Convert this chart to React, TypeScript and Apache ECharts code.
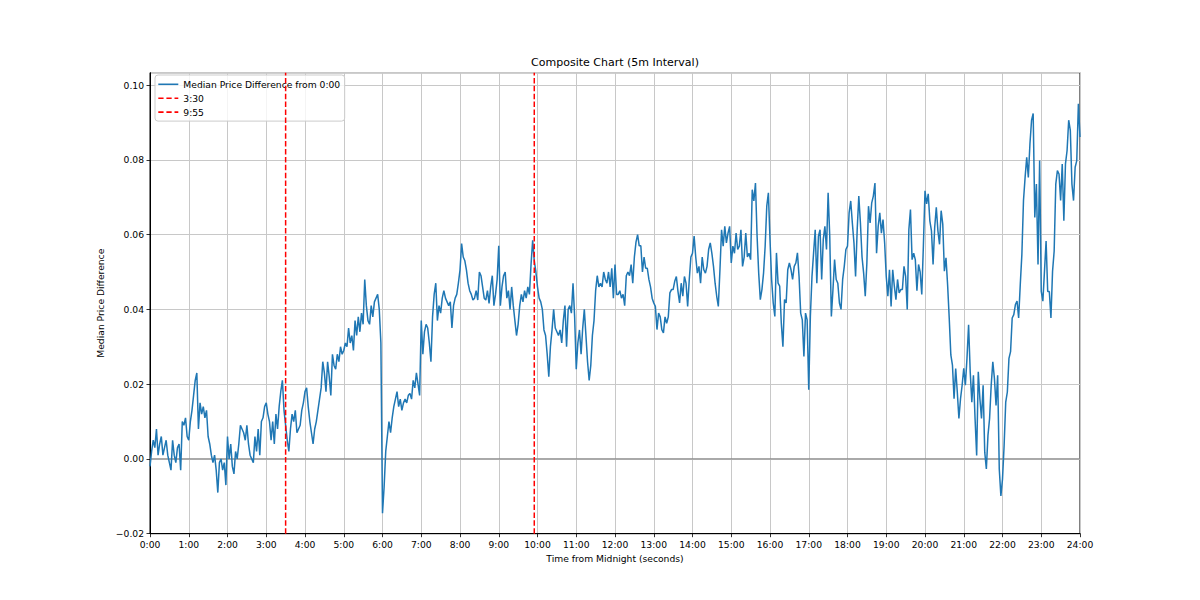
import React, { useEffect, useRef } from "react";
import * as echarts from "echarts";

// sampling step of the series (seconds); each hourly block holds 24 values (2.5-minute steps)
const stepSeconds = 150;
const h00 = [-0.002, 0.002, 0.005, 0.003, 0.008, 0.001, 0.004, 0.006, 0.001, 0.003, 0.005, 0.001, -0.001, -0.003, 0.005, 0.001, -0.001, 0.003, 0.004, -0.003, 0.010, 0.009, 0.011, 0.006];
const h01 = [0.005, 0.010, 0.013, 0.017, 0.021, 0.023, 0.008, 0.015, 0.012, 0.014, 0.011, 0.013, 0.006, 0.004, 0.001, -0.001, 0.001, -0.003, -0.009, -0.001, 0.000, -0.003, -0.001, -0.007];
const h02 = [0.006, 0.000, 0.004, -0.002, -0.004, 0.002, 0.000, 0.004, 0.009, 0.008, 0.007, 0.005, 0.009, 0.004, 0.001, 0.000, -0.001, 0.006, 0.002, 0.008, 0.001, 0.010, 0.011, 0.014];
const h03 = [0.015, 0.012, 0.010, 0.005, 0.010, 0.004, 0.012, 0.008, 0.014, 0.018, 0.021, 0.013, 0.009, 0.005, 0.002, 0.008, 0.012, 0.010, 0.013, 0.007, 0.008, 0.009, 0.013, 0.015];
const h04 = [0.018, 0.019, 0.014, 0.010, 0.007, 0.004, 0.008, 0.010, 0.013, 0.016, 0.019, 0.026, 0.023, 0.018, 0.026, 0.022, 0.017, 0.028, 0.025, 0.024, 0.028, 0.026, 0.030, 0.028];
const h05 = [0.029, 0.031, 0.030, 0.035, 0.031, 0.033, 0.029, 0.037, 0.033, 0.038, 0.034, 0.039, 0.036, 0.048, 0.041, 0.037, 0.036, 0.041, 0.038, 0.042, 0.043, 0.044, 0.040, 0.031];
const h06 = [-0.0145, -0.0075, 0.002, 0.006, 0.010, 0.007, 0.011, 0.014, 0.016, 0.018, 0.014, 0.016, 0.013, 0.015, 0.016, 0.015, 0.017, 0.0175, 0.016, 0.021, 0.019, 0.023, 0.020, 0.017];
const h07 = [0.037, 0.028, 0.034, 0.036, 0.035, 0.031, 0.026, 0.038, 0.044, 0.047, 0.037, 0.041, 0.039, 0.043, 0.045, 0.043, 0.042, 0.041, 0.042, 0.035, 0.041, 0.043, 0.044, 0.047];
const h08 = [0.0505, 0.0576, 0.054, 0.053, 0.0505, 0.047, 0.045, 0.044, 0.0425, 0.043, 0.045, 0.0425, 0.050, 0.049, 0.046, 0.043, 0.0425, 0.045, 0.0416, 0.046, 0.049, 0.041, 0.044, 0.048];
const h09 = [0.057, 0.041, 0.046, 0.049, 0.050, 0.043, 0.045, 0.040, 0.046, 0.041, 0.037, 0.033, 0.036, 0.041, 0.044, 0.042, 0.045, 0.043, 0.046, 0.044, 0.052, 0.0585, 0.053, 0.050];
const h10 = [0.046, 0.043, 0.042, 0.040, 0.0345, 0.033, 0.028, 0.022, 0.030, 0.0345, 0.040, 0.035, 0.034, 0.033, 0.0345, 0.031, 0.037, 0.041, 0.030, 0.040, 0.041, 0.039, 0.047, 0.038];
const h11 = [0.024, 0.031, 0.0345, 0.028, 0.035, 0.040, 0.033, 0.026, 0.021, 0.025, 0.033, 0.037, 0.045, 0.049, 0.046, 0.047, 0.046, 0.050, 0.048, 0.047, 0.050, 0.046, 0.051, 0.043];
const h12 = [0.052, 0.044, 0.044, 0.045, 0.043, 0.044, 0.041, 0.049, 0.050, 0.049, 0.052, 0.047, 0.054, 0.058, 0.060, 0.057, 0.057, 0.050, 0.054, 0.051, 0.051, 0.048, 0.046, 0.043];
const h13 = [0.0417, 0.0408, 0.0346, 0.039, 0.038, 0.0346, 0.0337, 0.038, 0.0363, 0.038, 0.0444, 0.0453, 0.0453, 0.0475, 0.0488, 0.0448, 0.0417, 0.047, 0.0435, 0.0488, 0.047, 0.0408, 0.048, 0.054];
const h14 = [0.055, 0.0596, 0.054, 0.0497, 0.0515, 0.047, 0.054, 0.0506, 0.0497, 0.0515, 0.056, 0.0578, 0.055, 0.0515, 0.047, 0.0435, 0.0408, 0.0506, 0.0613, 0.0569, 0.0622, 0.0578, 0.0604, 0.0622];
const h15 = [0.0524, 0.0569, 0.055, 0.0604, 0.056, 0.0569, 0.0613, 0.0515, 0.054, 0.0604, 0.054, 0.055, 0.0533, 0.072, 0.069, 0.0738, 0.0596, 0.0497, 0.0426, 0.0453, 0.0497, 0.0569, 0.0676, 0.0712];
const h16 = [0.0587, 0.048, 0.0417, 0.0381, 0.0551, 0.047, 0.0462, 0.0363, 0.030, 0.0426, 0.0417, 0.0506, 0.0524, 0.0506, 0.048, 0.0515, 0.0524, 0.0551, 0.0488, 0.039, 0.0372, 0.0274, 0.039, 0.0372];
const h17 = [0.0185, 0.0381, 0.0488, 0.0551, 0.0613, 0.047, 0.0596, 0.0613, 0.048, 0.0587, 0.0622, 0.056, 0.0712, 0.0596, 0.0381, 0.0453, 0.0533, 0.048, 0.047, 0.0417, 0.040, 0.048, 0.0515, 0.056];
const h18 = [0.0569, 0.0658, 0.069, 0.0631, 0.0578, 0.0488, 0.0613, 0.0703, 0.0631, 0.054, 0.0497, 0.0435, 0.0524, 0.0676, 0.0631, 0.0685, 0.0703, 0.0738, 0.055, 0.0622, 0.0658, 0.0604, 0.064, 0.0578];
const h19 = [0.0488, 0.0435, 0.0506, 0.0408, 0.0506, 0.0462, 0.0426, 0.048, 0.0444, 0.0453, 0.0453, 0.0515, 0.0488, 0.040, 0.0613, 0.0667, 0.0533, 0.055, 0.0533, 0.045, 0.052, 0.050, 0.044, 0.057];
const h20 = [0.0717, 0.0682, 0.0709, 0.0637, 0.061, 0.052, 0.0619, 0.0673, 0.061, 0.0574, 0.0664, 0.0628, 0.0502, 0.0538, 0.0466, 0.0377, 0.0278, 0.0251, 0.0161, 0.0242, 0.0179, 0.0108, 0.0161, 0.0197];
const h21 = [0.0242, 0.0197, 0.0269, 0.0359, 0.0233, 0.0152, 0.0224, 0.0108, 0.0009, 0.0233, 0.0161, 0.0108, 0.0197, 0.0018, -0.0027, 0.0063, 0.0108, 0.0197, 0.026, 0.0215, 0.0143, 0.0224, -0.0027, -0.0099];
const h22 = [-0.0054, 0.0036, 0.0152, 0.0179, 0.0269, 0.0287, 0.0377, 0.0386, 0.0413, 0.0422, 0.0377, 0.0466, 0.0547, 0.0691, 0.0753, 0.0807, 0.0753, 0.0843, 0.0906, 0.0924, 0.0646, 0.0735, 0.052, 0.0798];
const h23 = [0.0448, 0.0422, 0.0502, 0.0583, 0.0448, 0.0448, 0.0377, 0.0502, 0.0556, 0.0735, 0.0771, 0.0762, 0.0691, 0.0789, 0.0637, 0.0789, 0.0825, 0.0906, 0.0879, 0.0735, 0.0691, 0.078, 0.0798, 0.095, 0.0861];

const medianDiff = [
  ...h00, ...h01, ...h02, ...h03, ...h04, ...h05, ...h06, ...h07,
  ...h08, ...h09, ...h10, ...h11, ...h12, ...h13, ...h14, ...h15,
  ...h16, ...h17, ...h18, ...h19, ...h20, ...h21, ...h22, ...h23,
];

const xTickLabels = [
  "0:00", "1:00", "2:00", "3:00", "4:00", "5:00", "6:00", "7:00", "8:00",
  "9:00", "10:00", "11:00", "12:00", "13:00", "14:00", "15:00", "16:00",
  "17:00", "18:00", "19:00", "20:00", "21:00", "22:00", "23:00", "24:00",
];
const yTickLabels = ["\u22120.02", "0.00", "0.02", "0.04", "0.06", "0.08", "0.10"];

const mainName = "Median Price Difference from 0:00";
const markerNames = ["3:30", "9:55"];
const markerSeconds = [12600, 35700];

const xMax = 86400;
const yMin = -0.02;
const yMax = 0.1033;
const yStep = 0.02;

const FONT = "DejaVu Sans";
const lineIcon = "path://M0,0H19V1.5H0Z";
const dashIcon = "path://M0,0H5V1.5H0Z M7.7,0H12.7V1.5H7.7Z M15.4,0H19V1.5H15.4Z";

export default function App() {
  const ref = useRef<HTMLDivElement>(null);

  useEffect(() => {
    if (!ref.current) return;
    const chart = echarts.init(ref.current, null, { renderer: "svg" });

    const mainData = medianDiff.map((v, i) => [i * stepSeconds, v]);

    const markerSeries = markerNames.map((name, i) => ({
      name,
      type: "line",
      data: [
        [markerSeconds[i], yMin],
        [markerSeconds[i], yMax],
      ],
      showSymbol: false,
      symbol: "none",
      z: 4,
      itemStyle: { color: "#ff0000" },
      lineStyle: { color: "#ff0000", width: 1.5, type: [5.5, 2.4] },
      silent: true,
    }));

    chart.setOption({
      animation: false,
      backgroundColor: "#ffffff",
      textStyle: { fontFamily: FONT },
      graphic: [
        {
          type: "text",
          x: 615,
          y: 62.7,
          style: {
            text: "Composite Chart (5m Interval)",
            fill: "#000000",
            font: `11px "${FONT}"`,
            align: "center",
            verticalAlign: "middle",
          },
        },
      ],
      legend: {
        orient: "vertical",
        left: 155,
        top: 75,
        padding: [3.8, 4.5, 3.5, 3.3],
        itemGap: 2.9,
        itemWidth: 20,
        itemHeight: 11,
        selectedMode: false,
        backgroundColor: "rgba(255,255,255,0.8)",
        borderColor: "#cccccc",
        borderWidth: 1,
        borderRadius: 3,
        textStyle: { color: "#000000", fontSize: 9.2, fontFamily: FONT, lineHeight: 11 },
        data: [
          { name: mainName, icon: lineIcon },
          { name: markerNames[0], icon: dashIcon },
          { name: markerNames[1], icon: dashIcon },
        ],
      },
      grid: {
        left: 150,
        right: 120,
        top: 72.7,
        bottom: 66.3,
        show: true,
        borderColor: "#000000",
        borderWidth: 1,
        backgroundColor: "transparent",
        containLabel: false,
      },
      xAxis: {
        type: "value",
        min: 0,
        max: xMax,
        interval: 3600,
        name: "Time from Midnight (seconds)",
        nameLocation: "middle",
        nameGap: 19,
        nameTextStyle: { color: "#000000", fontSize: 9.2, fontFamily: FONT },
        axisLine: { show: true, onZero: false, lineStyle: { color: "#000000", width: 1 } },
        axisTick: { show: true, length: 3.5, lineStyle: { color: "#000000", width: 0.8 } },
        axisLabel: {
          color: "#000000",
          fontSize: 9.2,
          fontFamily: FONT,
          margin: 6,
          formatter: (v: number) => xTickLabels[Math.round(v / 3600)] ?? "",
        },
        splitLine: { show: true, lineStyle: { color: "#c8c8c8", width: 1 } },
      },
      yAxis: {
        type: "value",
        min: yMin,
        max: yMax,
        interval: yStep,
        name: "Median Price Difference",
        nameLocation: "middle",
        nameGap: 33.5,
        nameTextStyle: { color: "#000000", fontSize: 9.2, fontFamily: FONT },
        axisLine: { show: true, onZero: false, lineStyle: { color: "#000000", width: 1 } },
        axisTick: { show: true, length: 3.5, lineStyle: { color: "#000000", width: 0.8 } },
        axisLabel: {
          color: "#000000",
          fontSize: 9.2,
          fontFamily: FONT,
          margin: 6,
          showMaxLabel: false,
          formatter: (v: number) => {
            const k = (v - yMin) / yStep;
            const r = Math.round(k);
            return Math.abs(k - r) < 1e-6 ? yTickLabels[r] ?? "" : "";
          },
        },
        splitLine: { show: true, lineStyle: { color: "#c8c8c8", width: 1 } },
      },
      series: [
        {
          name: "zero",
          type: "line",
          data: [
            [0, 0],
            [xMax, 0],
          ],
          showSymbol: false,
          symbol: "none",
          z: 1,
          silent: true,
          lineStyle: { color: "#8c8c8c", width: 1.2 },
        },
        {
          name: mainName,
          type: "line",
          data: mainData,
          showSymbol: false,
          symbol: "none",
          z: 3,
          itemStyle: { color: "#1f77b4" },
          lineStyle: { color: "#1f77b4", width: 1.5 },
          silent: true,
        },
        ...markerSeries,
      ],
    });

    return () => chart.dispose();
  }, []);

  return (
    <div
      ref={ref}
      style={{ position: "fixed", left: 0, top: 0, width: 1200, height: 600 }}
    />
  );
}
